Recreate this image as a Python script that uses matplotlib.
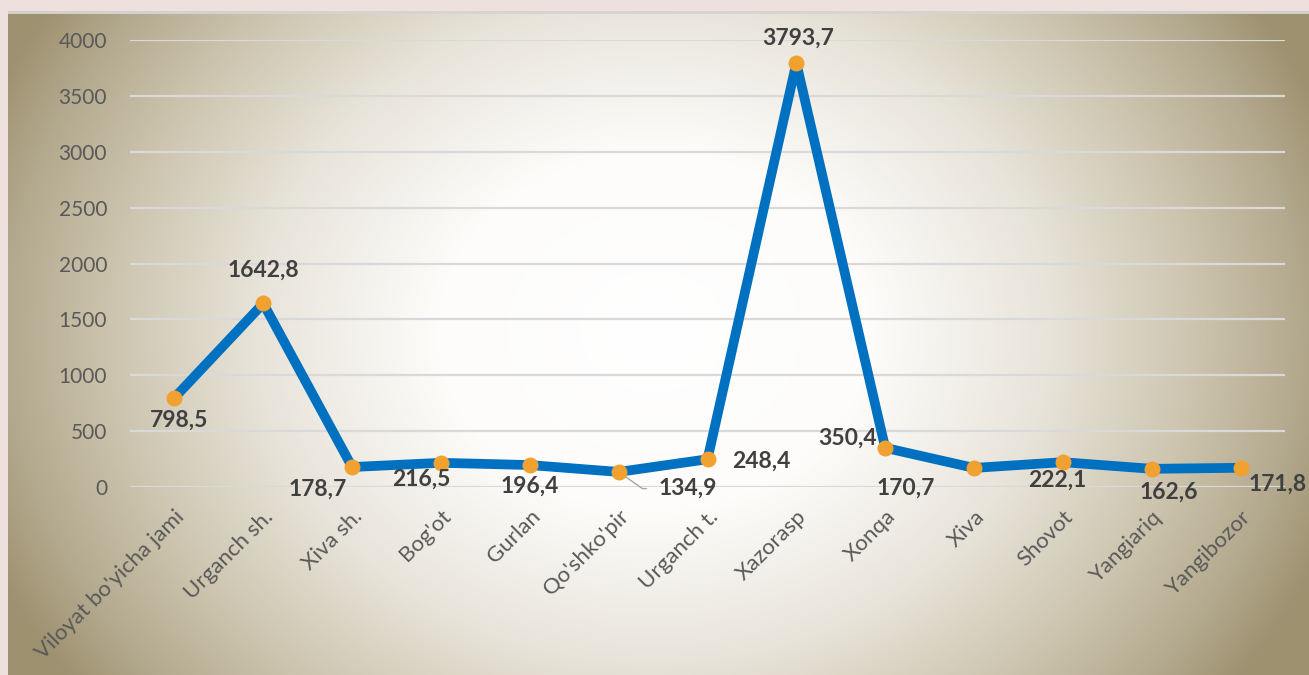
import numpy as np
import matplotlib
matplotlib.use("Agg")
import matplotlib.pyplot as plt
from matplotlib.colors import LinearSegmentedColormap

categories = ["Viloyat bo'yicha jami", "Urganch sh.", "Xiva sh.", "Bog'ot", "Gurlan",
              "Qo'shko'pir", "Urganch t.", "Xazorasp", "Xonqa", "Xiva", "Shovot",
              "Yangiariq", "Yangibozor"]
values = [798.5, 1642.8, 178.7, 216.5, 196.4, 134.9, 248.4, 3793.7, 350.4, 170.7,
          222.1, 162.6, 171.8]
yticks = [0, 500, 1000, 1500, 2000, 2500, 3000, 3500, 4000]

# label offsets (points) relative to each marker
offsets = [(3.6, -16.5), (0, 24), (-24.5, -16), (-14.4, -12), (0, -15), (50, -12),
           (39, -1.5), (1.4, 18), (-27, 7), (-49, -14.4), (-4.3, -13), (12, -17),
           (27, -12)]

W, H = 1309, 675
plt.rcParams['font.family'] = ['Lato', 'DejaVu Sans']
fig = plt.figure(figsize=(W / 100, H / 100), dpi=100)
fig.patch.set_facecolor('#EEE1DD')

# gradient background
bg = fig.add_axes([8 / W, 0, 1 - 8 / W, (H - 11) / H])
bw, bh = W - 8, H - 11
yy, xx = np.mgrid[0:bh, 0:bw]
cx, cy = 645, 320
d = np.sqrt(((xx - cx) / 720.0) ** 2 + ((yy - cy) / 600.0) ** 2)
d = np.clip(d, 0, 1)
cmap = LinearSegmentedColormap.from_list(
    'g', [(0, '#FFFFFF'), (0.3, '#FDFCFA'), (0.55, '#E8E4DA'), (0.75, '#CDC5AF'),
          (0.9, '#B3A98E'), (1.0, '#9E9170')])
bg.imshow(d, cmap=cmap, vmin=0, vmax=1, aspect='auto', extent=[0, bw, bh, 0])
bg.set_xlim(0, bw)
bg.set_ylim(bh, 0)
bg.axis('off')
bg.axhline(0.5, color='#D6D3D0', lw=2)

ax = fig.add_axes([130 / W, (H - 487) / H, (1285 - 130) / W, (487 - 40) / H])
ax.patch.set_alpha(0)
x = np.arange(len(categories))
ax.plot(x, values, color='#0070C0', lw=7, solid_joinstyle='round', zorder=3)
ax.plot(x, values, 'o', color='#F0A130', ms=11.5, mec='none', zorder=4)
ax.set_xlim(-0.5, len(categories) - 0.5)
ax.set_ylim(0, 4000)
ax.set_yticks(yticks)
ax.set_yticklabels([str(t) for t in yticks], fontsize=15, color='#595959')
ax.set_xticks(x)
ax.set_xticklabels(categories, rotation=45, ha='right', rotation_mode='anchor',
                   fontsize=16, color='#595959')
ax.tick_params(length=0, axis='y', pad=16.5)
ax.tick_params(length=0, axis='x', pad=14)
for s in ax.spines.values():
    s.set_visible(False)
ax.grid(axis='y', color='#D9D9D9', lw=1.6, zorder=1)
ax.set_axisbelow(True)

for i, (v, off) in enumerate(zip(values, offsets)):
    txt = f"{v:.1f}".replace('.', ',')
    ax.annotate(txt, (i, v), xytext=off, textcoords='offset points', ha='center',
                va='center', fontsize=16.5, fontweight='bold', color='#404040', zorder=5)

# leader line for Qo'shko'pir label
ax.annotate('', (5, values[5]), xytext=(22, -12), textcoords='offset points',
            arrowprops=dict(arrowstyle='-', color='#A6A6A6', lw=1,
                            connectionstyle='angle,angleA=0,angleB=-35,rad=0'))

fig.savefig('out.png', dpi=100, facecolor=fig.get_facecolor())
